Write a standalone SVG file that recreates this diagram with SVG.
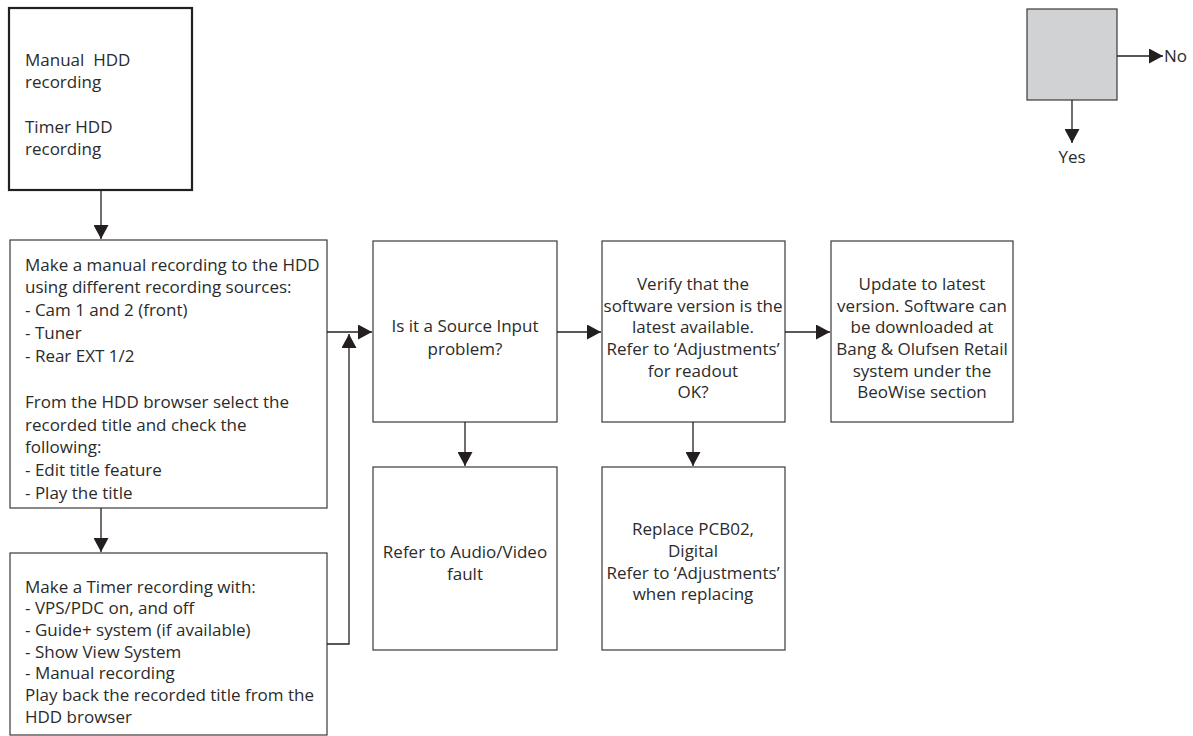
<svg xmlns="http://www.w3.org/2000/svg" width="1193" height="736" viewBox="0 0 1193 736">
<defs>
<marker id="arr" markerWidth="14" markerHeight="15" viewBox="0 0 14 15" refX="14" refY="7.5" orient="auto" markerUnits="userSpaceOnUse">
<path d="M0,0 L14,7.5 L0,15 Z" fill="#231f20"/>
</marker>
</defs>
<style>
.box{fill:#fff;stroke:#3a3a3a;stroke-width:1.2}
.thick{fill:#fff;stroke:#231f20;stroke-width:2.2}
.t{font-family:"Open Sans","Noto Sans",sans-serif;font-size:17px;fill:#2b2b2b;white-space:pre}
.c{text-anchor:middle}
.ln{fill:none;stroke:#231f20;stroke-width:1.3}
</style>
<rect width="1193" height="736" fill="#fff"/>
<g id="n1">
<rect class="thick" x="9" y="8" width="183" height="182"/>
<text class="t" x="25" y="66" xml:space="preserve">Manual  HDD</text>
<text class="t" x="25" y="88">recording</text>
<text class="t" x="25" y="133">Timer HDD</text>
<text class="t" x="25" y="155">recording</text>
</g>
<g id="n2">
<rect class="box" x="10" y="240" width="317" height="268"/>
<text class="t" x="25" y="271">Make a manual recording to the HDD</text>
<text class="t" x="25" y="293">using different recording sources:</text>
<text class="t" x="25" y="316">- Cam 1 and 2 (front)</text>
<text class="t" x="25" y="339">- Tuner</text>
<text class="t" x="25" y="362">- Rear EXT 1/2</text>
<text class="t" x="25" y="408">From the HDD browser select the</text>
<text class="t" x="25" y="431">recorded title and check the</text>
<text class="t" x="25" y="453">following:</text>
<text class="t" x="25" y="476">- Edit title feature</text>
<text class="t" x="25" y="499">- Play the title</text>
</g>
<g id="n3">
<rect class="box" x="10" y="553" width="317" height="182"/>
<text class="t" x="25" y="593">Make a Timer recording with:</text>
<text class="t" x="25" y="614">- VPS/PDC on, and off</text>
<text class="t" x="25" y="636">- Guide+ system (if available)</text>
<text class="t" x="25" y="658">- Show View System</text>
<text class="t" x="25" y="679">- Manual recording</text>
<text class="t" x="25" y="701">Play back the recorded title from the</text>
<text class="t" x="25" y="723">HDD browser</text>
</g>
<g id="n4">
<rect class="box" x="373" y="241" width="184" height="181"/>
<text class="t c" x="465" y="332">Is it a Source Input</text>
<text class="t c" x="465" y="355">problem?</text>
</g>
<g id="n5">
<rect class="box" x="373" y="467" width="184" height="183"/>
<text class="t c" x="465" y="558">Refer to Audio/Video</text>
<text class="t c" x="465" y="580">fault</text>
</g>
<g id="n6">
<rect class="box" x="602" y="241" width="183" height="181"/>
<text class="t c" x="693" y="290">Verify that the</text>
<text class="t c" x="693" y="312">software version is the</text>
<text class="t c" x="693" y="333">latest available.</text>
<text class="t c" x="693" y="355">Refer to ‘Adjustments’</text>
<text class="t c" x="693" y="377">for readout</text>
<text class="t c" x="693" y="398">OK?</text>
</g>
<g id="n7">
<rect class="box" x="831" y="241" width="182" height="181"/>
<text class="t c" x="922" y="290">Update to latest</text>
<text class="t c" x="922" y="312">version. Software can</text>
<text class="t c" x="922" y="333">be downloaded at</text>
<text class="t c" x="922" y="355">Bang &amp; Olufsen Retail</text>
<text class="t c" x="922" y="377">system under the</text>
<text class="t c" x="922" y="398">BeoWise section</text>
</g>
<g id="n8">
<rect class="box" x="602" y="467" width="183" height="183"/>
<text class="t c" x="693" y="535">Replace PCB02,</text>
<text class="t c" x="693" y="557">Digital</text>
<text class="t c" x="693" y="579">Refer to ‘Adjustments’</text>
<text class="t c" x="693" y="600">when replacing</text>
</g>
<g id="legend">
<rect x="1027" y="9" width="90" height="91" fill="#d1d2d4" stroke="#3a3a3a" stroke-width="1.2"/>
<text class="t" x="1164" y="62">No</text>
<text class="t c" x="1072" y="163">Yes</text>
</g>
<g id="connectors">
<line class="ln" x1="101" y1="190" x2="101" y2="239" marker-end="url(#arr)"/>
<line class="ln" x1="101" y1="508" x2="101" y2="552" marker-end="url(#arr)"/>
<line class="ln" x1="327" y1="332" x2="372" y2="332" marker-end="url(#arr)"/>
<polyline class="ln" points="327,644 349,644 349,334" marker-end="url(#arr)"/>
<line class="ln" x1="557" y1="332" x2="601" y2="332" marker-end="url(#arr)"/>
<line class="ln" x1="785" y1="332" x2="830" y2="332" marker-end="url(#arr)"/>
<line class="ln" x1="465" y1="422" x2="465" y2="466" marker-end="url(#arr)"/>
<line class="ln" x1="693" y1="422" x2="693" y2="466" marker-end="url(#arr)"/>
<line class="ln" x1="1117" y1="56" x2="1163" y2="56" marker-end="url(#arr)"/>
<line class="ln" x1="1072" y1="100" x2="1072" y2="143" marker-end="url(#arr)"/>
</g>
</svg>
